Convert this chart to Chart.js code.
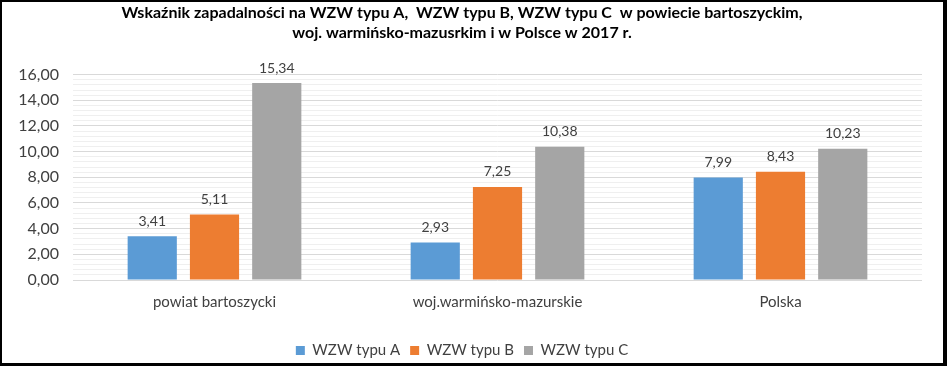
<!DOCTYPE html>
<html>
<head>
<meta charset="utf-8">
<script src="https://cdn.jsdelivr.net/npm/chart.js@4/dist/chart.umd.min.js"></script>
<style>
  html, body { margin: 0; padding: 0; background: #fff; }
  #frame {
    width: 947px; height: 366px; box-sizing: border-box;
    border-style: solid; border-color: #000;
    border-width: 2px 4px 3px 2px;
    background: #fff;
  }
  #wrap { position: relative; width: 941px; height: 361px; }
</style>
</head>
<body>
<div id="frame"><div id="wrap"><canvas id="wzwChart"></canvas></div></div>
<script>
// Data
const categories = ['powiat bartoszycki', 'woj.warmińsko-mazurskie', 'Polska'];
const seriesNames = ['WZW typu A', 'WZW typu B', 'WZW typu C'];
const typeA = [3.41, 2.93, 7.99];
const typeB = [5.11, 7.25, 8.43];
const typeC = [15.34, 10.38, 10.23];
const yMin = 0, yMax = 16, yMajorStep = 2;
const titleLines = [
  'Wskaźnik zapadalności na WZW typu A,  WZW typu B, WZW typu C  w powiecie bartoszyckim,',
  'woj. warmińsko-mazusrkim i w Polsce w 2017 r.'
];

const colors = ['#5B9BD5', '#ED7D31', '#A5A5A5'];
const fontFamily = 'Lato, "Open Sans", sans-serif';
const fmt = v => v.toFixed(2).replace('.', ',');
const isMajor = v => Math.abs(v / yMajorStep - Math.round(v / yMajorStep)) < 1e-6;

// value labels above bars
const valueLabels = {
  id: 'valueLabels',
  afterDatasetsDraw(chart) {
    const ctx = chart.ctx;
    ctx.save();
    ctx.font = '14px ' + fontFamily;
    ctx.fillStyle = '#404040';
    ctx.textAlign = 'center';
    ctx.textBaseline = 'bottom';
    chart.data.datasets.forEach((ds, i) => {
      chart.getDatasetMeta(i).data.forEach((bar, j) => {
        ctx.fillText(fmt(ds.data[j]), bar.x, bar.y - 8);
      });
    });
    ctx.restore();
  }
};

function initChart() {
  const ctx = document.getElementById('wzwChart').getContext('2d');
  new Chart(ctx, {
    type: 'bar',
    data: {
      labels: categories,
      datasets: [typeA, typeB, typeC].map((d, i) => ({
        label: seriesNames[i],
        data: d,
        backgroundColor: colors[i],
        categoryPercentage: 0.66,
        barPercentage: 0.79
      }))
    },
    options: {
      responsive: true,
      maintainAspectRatio: false,
      animation: false,
      layout: { padding: { left: 0, right: 21, top: 0, bottom: -5 } },
      plugins: {
        title: {
          display: true,
          text: titleLines,
          color: '#000',
          font: { family: fontFamily, size: 16, weight: 'bold', lineHeight: 1.3 },
          padding: { top: 0, bottom: 31 }
        },
        legend: {
          position: 'bottom',
          labels: {
            color: '#404040',
            font: { family: fontFamily, size: 15 },
            boxWidth: 9,
            boxHeight: 9,
            padding: 10
          }
        },
        tooltip: { enabled: false }
      },
      scales: {
        x: {
          afterFit(scale) { scale.height = 53; },
          grid: { display: false },
          border: { display: false },
          ticks: { color: '#404040', font: { family: fontFamily, size: 15 }, padding: 5 }
        },
        y: {
          min: yMin,
          max: yMax,
          afterFit(scale) { scale.width = 71; },
          border: { display: false },
          grid: {
            drawTicks: false,
            color: c => isMajor(c.tick.value) ? '#d9d9d9' : '#efefef',
            lineWidth: 1
          },
          ticks: {
            stepSize: 0.4,
            autoSkip: false,
            padding: 14,
            color: '#404040',
            font: { family: fontFamily, size: 16 },
            callback: v => isMajor(v) ? fmt(v) : ''
          }
        }
      }
    },
    plugins: [valueLabels]
  });
}

document.addEventListener('DOMContentLoaded', initChart);
</script>
</body>
</html>
